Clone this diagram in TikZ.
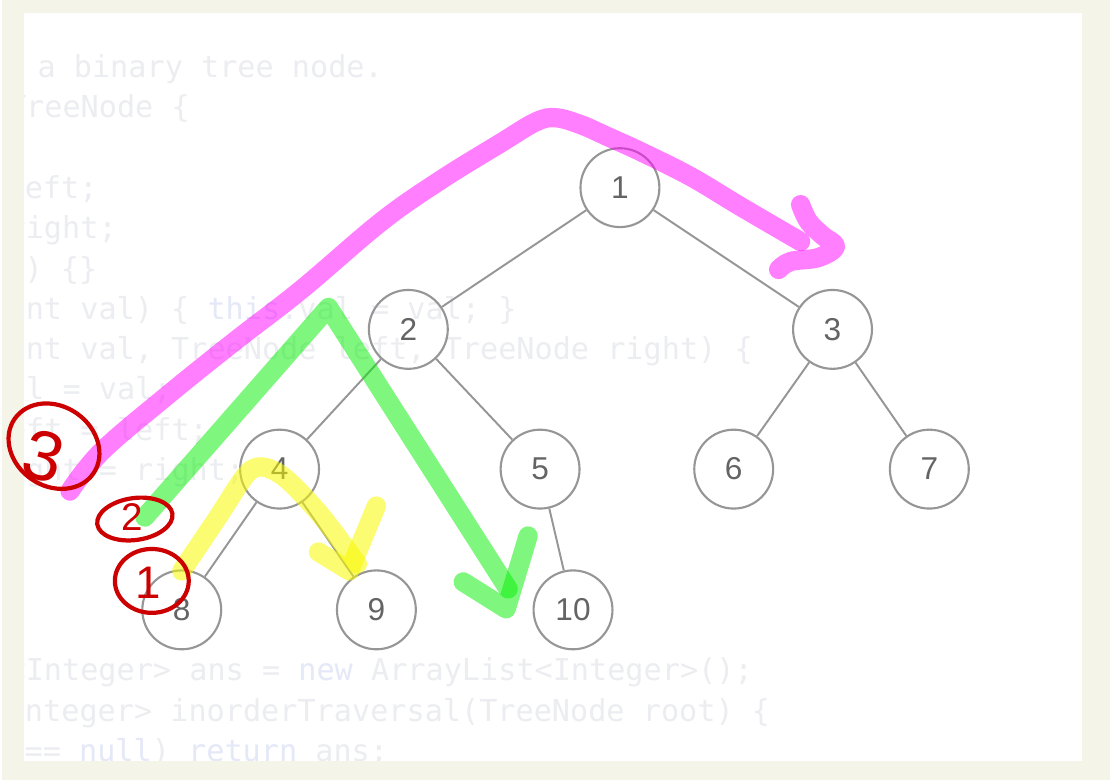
\documentclass[tikz,border=0pt]{standalone}
\usepackage{fontspec}
\setmonofont{DejaVu Sans Mono}
\newfontfamily\treefont{Liberation Sans}
\definecolor{cream}{RGB}{244,244,232}
\definecolor{codegray}{RGB}{236,237,241}
\definecolor{codeblue}{RGB}{228,232,247}
\definecolor{circgray}{RGB}{150,150,150}
\definecolor{digitgray}{RGB}{100,100,100}
\definecolor{pen}{RGB}{204,0,0}
\definecolor{inkpink}{RGB}{255,0,255}
\definecolor{inkgreen}{RGB}{0,240,0}
\definecolor{inkyellow}{RGB}{250,250,0}

\begin{document}
\begin{tikzpicture}[x=0.01cm, y=-0.01cm,
    tn/.style ={circle, draw=circgray, line width=0.6pt, minimum size=0.79cm, inner sep=0pt,
                font=\treefont\fontsize{9}{10}\selectfont, text=digitgray},
    link/.style={draw=circgray, line width=0.55pt},
    codeln/.style={anchor=base west, inner sep=0pt, font=\ttfamily\fontsize{8.6}{10}\selectfont, text=codegray},
    ink/.style ={line width=5.5pt, line cap=round, line join=round, opacity=0.5},
    redink/.style={draw=pen, line width=1.2pt},
    penno/.style={text=pen, inner sep=0pt},
  ]
  % page and panel
  \fill[cream] (0,0) rectangle (1110,781);
  \fill[white] (22,13) rectangle (1082,762);

  % faded code behind the tree
  \begin{scope}
    \clip (22,13) rectangle (1082,762);
    \node[codeln] (c0) at (-38,78) {for a binary tree node.};
    \node[codeln] (c1) at (-104,118) {class TreeNode \{};
    \node[codeln] (c3) at (-160,199) {TreeNode left;};
    \node[codeln] (c4) at (-159,239) {TreeNode right;};
    \node[codeln] (c5) at (-142,280) {TreeNode() \{\}};
    \node[codeln] (c6) at (-159,320) {TreeNode(int val) \{ \textcolor{codeblue}{this}.val = val; \}};
    \node[codeln] (c7) at (-159,360) {TreeNode(int val, TreeNode left, TreeNode right) \{};
    \node[codeln] (c8) at (-104,400) {this.val = val;};
    \node[codeln] (c9) at (-104,441) {this.left = left;};
    \node[codeln] (c10) at (-104,481) {this.right = right;};
    \node[codeln] (c15) at (-68,682) {List<Integer> ans = \textcolor{codeblue}{new} ArrayList<Integer>();};
    \node[codeln] (c16) at (-87,723) {List<Integer> inorderTraversal(TreeNode root) \{};
    \node[codeln] (c17) at (-142,763) {if (root == \textcolor{codeblue}{null}) \textcolor{codeblue}{return} ans;};
  \end{scope}

  % tree
  \node[tn] (n1) at (619,188) {1};
  \node[tn] (n2) at (407,330) {2};
  \node[tn] (n3) at (832,330) {3};
  \node[tn] (n4) at (278,470) {4};
  \node[tn] (n5) at (539,470) {5};
  \node[tn] (n6) at (733,470) {6};
  \node[tn] (n7) at (929,470) {7};
  \node[tn] (n8) at (180,611) {8};
  \node[tn] (n9) at (375,611) {9};
  \node[tn] (n10) at (572,611) {10};
  \draw[link] (n1) -- (n2);
  \draw[link] (n1) -- (n3);
  \draw[link] (n2) -- (n4);
  \draw[link] (n2) -- (n5);
  \draw[link] (n3) -- (n6);
  \draw[link] (n3) -- (n7);
  \draw[link] (n4) -- (n8);
  \draw[link] (n4) -- (n9);
  \draw[link] (n5) -- (n10);

  % pen strokes
  \draw[ink, inkpink] plot[smooth, tension=0.6] coordinates {(68,492) (100,452) (167,395) (233,342) (300,290)
    (380,222) (440,180) (500,143) (535,122) (555,118) (580,125) (607,137) (640,152) (690,177) (740,207) (800,242)};
  \draw[ink, inkpink] plot[smooth, tension=0.6] coordinates {(800,205) (808,222) (822,236) (835,247) (818,258) (790,262) (778,270)};
  \draw[ink, inkgreen] (143,518) -- (327,308) -- (507,590);
  \draw[ink, inkgreen] (462,583) -- (505,610) -- (527,537);
  \draw[ink, inkyellow, opacity=0.55] plot[smooth, tension=0.5] coordinates {(180,572) (215,520) (245,475) (262,468) (285,480) (320,517) (356,565)};
  \draw[ink, inkyellow, opacity=0.55] (317,553) -- (348,572) -- (375,507);

  % circled order numbers
  \draw[redink, rotate around={-35:(52,447)}] (52,447) ellipse [x radius=48, y radius=40];
  \node[penno, font=\treefont\fontsize{20}{20}\selectfont, rotate=-15] (r3) at (42,457) {3};
  \draw[redink, rotate around={8:(133,520)}] (133,520) ellipse [x radius=38, y radius=21];
  \node[penno, font=\treefont\fontsize{11}{11}\selectfont] (r2) at (130,518) {2};
  \draw[redink] (150,582) ellipse [x radius=37, y radius=32];
  \node[penno, font=\treefont\fontsize{13}{13}\selectfont] (r1) at (146,584) {1};
\end{tikzpicture}
\end{document}
